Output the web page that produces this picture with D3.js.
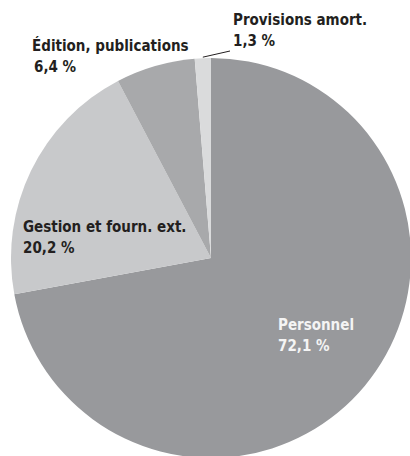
<!DOCTYPE html>
<html>
<head>
<meta charset="utf-8">
<script src="https://cdn.jsdelivr.net/npm/d3@7"></script>
<style>
  html, body { margin: 0; padding: 0; background: #fff; }
  svg { display: block; }
  text { font-family: "DejaVu Sans Condensed", "DejaVu Sans", sans-serif; font-weight: bold; }
</style>
</head>
<body>
<svg id="chart" width="410" height="456"></svg>
<script>
// Répartition des charges (en %)
const categories = ["Personnel", "Gestion et fourn. ext.", "Édition, publications", "Provisions amort."];
const values = [72.1, 20.2, 6.4, 1.3];
const colors = ["#98999c", "#c8c9cb", "#a8a9ab", "#dadbdc"];

const svg = d3.select("#chart");
const cx = 211, cy = 258, radius = 200;

const data = categories.map((c, i) => ({ name: c, value: values[i], color: colors[i] }));
const pie = d3.pie().sort(null).value(d => d.value);
const arc = d3.arc().innerRadius(0).outerRadius(radius);
const arcs = pie(data);

const g = svg.append("g").attr("transform", `translate(${cx},${cy})`);
g.selectAll("path")
  .data(arcs)
  .join("path")
  .attr("d", arc)
  .attr("fill", d => d.data.color);

const fmt = v => d3.format(".1f")(v).replace(".", ",") + " %";

// label layout: position of first line baseline, text colour
const labelPos = [
  { x: 278, y: 330, fill: "#f4f4f4" },
  { x: 23, y: 232, fill: "#231f20" },
  { x: 32, y: 51, fill: "#231f20" },
  { x: 233, y: 25, fill: "#231f20" }
];

const fontSize = 15;
arcs.forEach((a, i) => {
  const p = labelPos[i];
  const t = svg.append("text")
    .attr("x", p.x).attr("y", p.y)
    .attr("fill", p.fill)
    .attr("font-size", fontSize);
  t.append("tspan").attr("x", p.x).text(a.data.name);
  t.append("tspan").attr("x", p.x + (i === 2 ? 2 : 0)).attr("dy", 20.5).text(fmt(a.data.value));
});

// leader line for the smallest slice
const small = arcs[3];
const mid = (small.startAngle + small.endAngle) / 2;
const edge = [cx + Math.sin(mid) * radius, cy - Math.cos(mid) * radius];
svg.append("line")
  .attr("x1", edge[0]).attr("y1", edge[1] - 1)
  .attr("x2", 230).attr("y2", 51)
  .attr("stroke", "#231f20")
  .attr("stroke-width", 1);
</script>
</body>
</html>
